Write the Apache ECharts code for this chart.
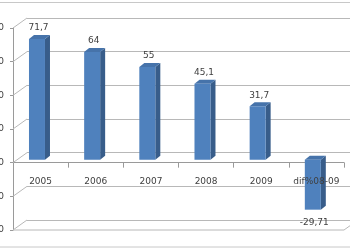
<!DOCTYPE html>
<html>
<head>
<meta charset="utf-8">
<script src="https://cdn.jsdelivr.net/npm/echarts@6/dist/echarts.min.js"></script>
<style>html,body{margin:0;padding:0;background:#fff}#c{width:350px;height:250px}</style>
</head>
<body>
<div id="c"></div>
<script>
const categories = ['2005', '2006', '2007', '2008', '2009', 'dif%08-09'];
const values = [71.7, 64, 55, 45.1, 31.7, -29.71];
const yMin = -40, yMax = 80, yStep = 20;
const yTicks = [-40, -20, 0, 20, 40, 60, 80];

const FONT = 'DejaVu Sans';
const TXT = '#404040';
const GRID = '#b8b8b8';
const AXIS = '#9a9a9a';
const DX = 14, DY = -10;      // depth offset of back wall
const BDX = 5, BDY = -4;      // bar depth

const chart = echarts.init(document.getElementById('c'), null, {renderer: 'canvas'});

function fmt(v) { return String(v).replace('.', ','); }

const vAxis = (extra) => Object.assign({
  type: 'value', min: yMin, max: yMax, interval: yStep,
  axisLine: {show: false}, axisTick: {show: false}, axisLabel: {show: false}, splitLine: {show: false}
}, extra);
const cAxis = (extra) => Object.assign({
  type: 'category', data: categories,
  axisLine: {show: false}, axisTick: {show: false}, axisLabel: {show: false}, splitLine: {show: false}
}, extra);
const g = (o) => Object.assign({containLabel: false, outerBoundsMode: 'none'}, o);

chart.setOption({
  animation: false,
  graphic: [{
    type: 'rect', shape: {x: -3, y: 2.5, width: 356, height: 244.5},
    style: {fill: 'none', stroke: '#c8c8c8', lineWidth: 1}, z: 0
  }],
  grid: [
    g({left: 13, top: 28, width: 331, height: 202}),     // front axes
    g({left: 27, top: 18, width: 331, height: 202}),     // back wall
    g({left: 9.4, top: 25, width: 331, height: 202}),    // bars
    g({left: 13, top: 28, width: 331, height: 135.3})    // category labels (bottom edge = value 0)
  ],
  xAxis: [
    cAxis({gridIndex: 0, axisLine: {show: true, onZero: true, lineStyle: {color: AXIS, width: 1}},
      axisTick: {show: true, interval: 0, length: 5, lineStyle: {color: AXIS}}}),
    cAxis({gridIndex: 1}),
    cAxis({gridIndex: 2}),
    cAxis({gridIndex: 3, z: 10, position: 'bottom', axisLine: {show: false, onZero: false},
      axisLabel: {show: true, interval: 0, margin: 14, fontFamily: FONT, fontSize: 9, color: TXT}})
  ],
  yAxis: [
    vAxis({gridIndex: 0, axisLine: {show: true, lineStyle: {color: AXIS}},
      axisTick: {show: true, length: 3, lineStyle: {color: AXIS}},
      axisLabel: {show: true, margin: 9, fontFamily: FONT, fontSize: 9, color: TXT}}),
    vAxis({gridIndex: 1, splitLine: {show: true, lineStyle: {color: GRID, width: 1}}}),
    vAxis({gridIndex: 2}),
    vAxis({gridIndex: 3, min: 0})
  ],
  series: [
    {
      type: 'custom', xAxisIndex: 0, yAxisIndex: 0, z: 1, silent: true,
      data: yTicks.map(v => [0, v]),
      renderItem(params, api) {
        const v = api.value(1);
        const p = api.coord([0, v]);
        const bw = api.size([1, 0])[0];
        const xl = p[0] - bw / 2;
        const ls = {stroke: GRID, lineWidth: 1, fill: null};
        const kids = [{type: 'line', shape: {x1: xl, y1: p[1], x2: xl + DX, y2: p[1] + DY}, style: ls}];
        if (v === yMin) {
          const xr = api.coord([categories.length - 1, v])[0] + bw / 2;
          kids.push({type: 'line', shape: {x1: xl, y1: p[1], x2: xr, y2: p[1]}, style: ls});
          kids.push({type: 'line', shape: {x1: xr, y1: p[1], x2: xr + DX, y2: p[1] + DY}, style: ls});
        }
        return {type: 'group', children: kids};
      }
    },
    {
      type: 'custom', xAxisIndex: 2, yAxisIndex: 2, z: 5, silent: true,
      data: values.map((v, i) => [i, v]),
      renderItem(params, api) {
        const i = api.value(0), v = api.value(1);
        const b = api.coord([i, 0]);
        const t = api.coord([i, v]);
        const bw = api.size([1, 0])[0] * 0.29;
        const x0 = b[0] - bw / 2, x1 = b[0] + bw / 2;
        const yT = Math.min(b[1], t[1]), yB = Math.max(b[1], t[1]);
        const kids = [
          {type: 'polygon', shape: {points: [[x1, yT], [x1 + BDX, yT + BDY], [x1 + BDX, yB + BDY], [x1, yB]]},
            style: {fill: '#385D8A'}},
          {type: 'polygon', shape: {points: [[x0, yT], [x0 + BDX, yT + BDY], [x1 + BDX, yT + BDY], [x1, yT]]},
            style: {fill: '#4673AA'}},
          {type: 'rect', shape: {x: x0, y: yT, width: bw, height: yB - yT},
            style: {fill: '#4F81BD'}},
          {type: 'text', z2: 20, style: {
            text: fmt(v), x: b[0] + 1.5, y: v >= 0 ? yT - 11 : yB + 13,
            align: 'center', verticalAlign: 'middle', fontFamily: FONT, fontSize: 9, fill: TXT}}
        ];
        return {type: 'group', children: kids};
      }
    }
  ]
});
</script>
</body>
</html>
